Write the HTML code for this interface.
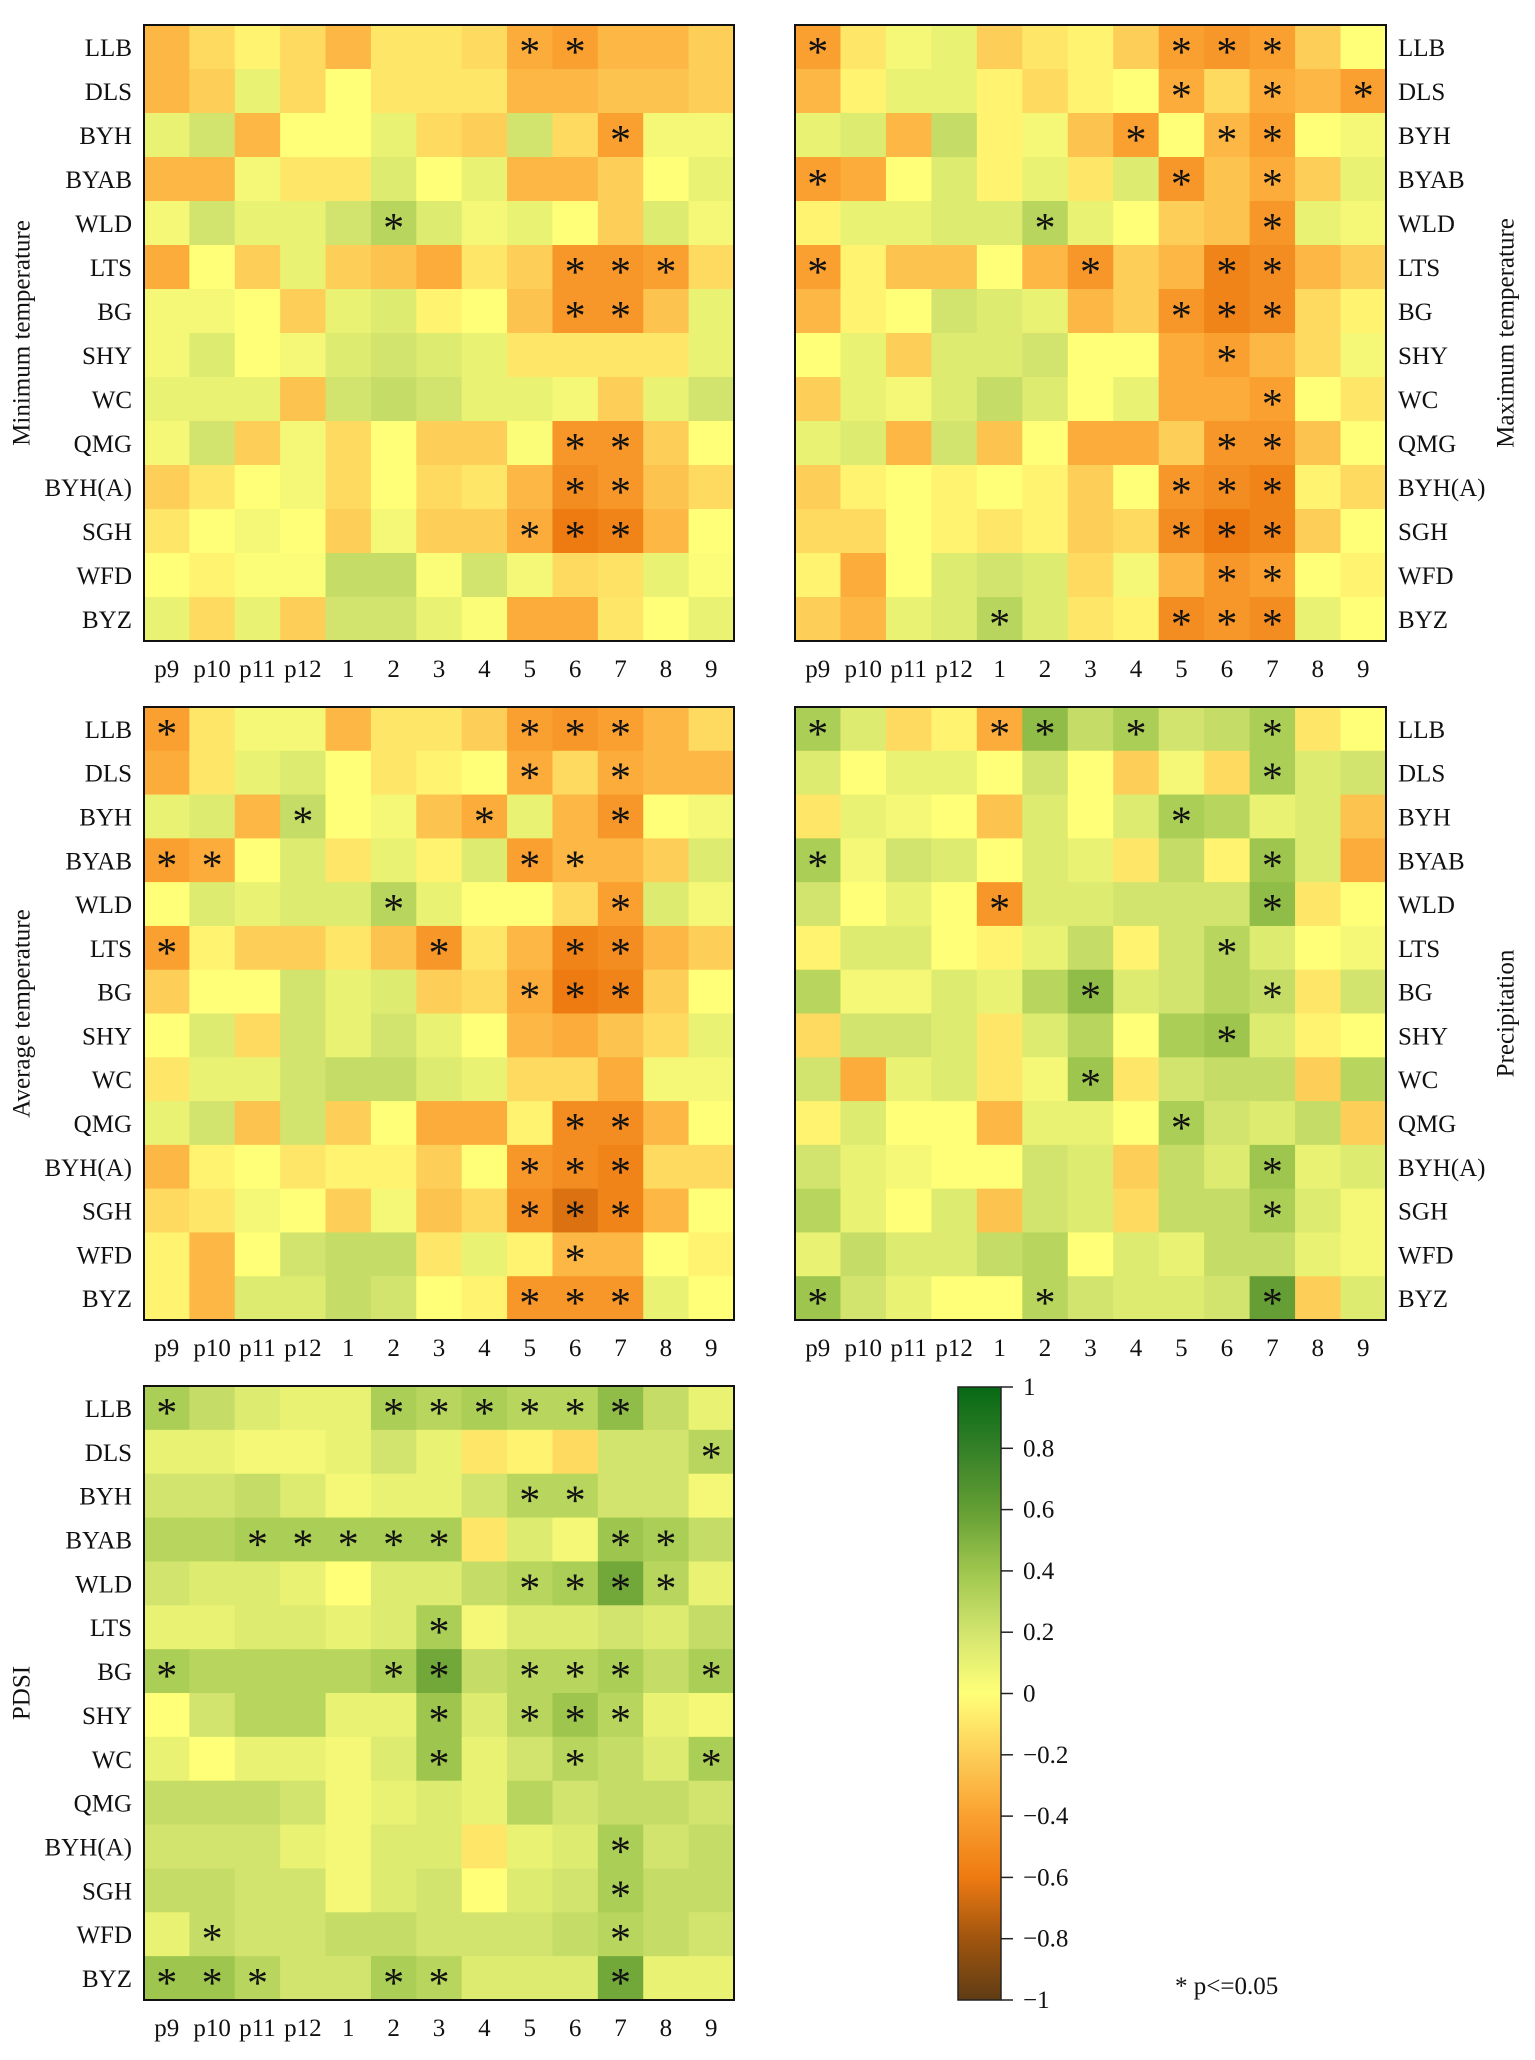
<!DOCTYPE html>
<html><head><meta charset="utf-8"><style>
html,body{margin:0;padding:0;background:#fff;}
svg{display:block;font-family:"Liberation Serif",serif;}
</style></head><body>
<svg id="fig" width="1535" height="2060" viewBox="0 0 1535 2060" xmlns="http://www.w3.org/2000/svg"></svg>
<script>
const sites = ["LLB","DLS","BYH","BYAB","WLD","LTS","BG","SHY","WC","QMG","BYH(A)","SGH","WFD","BYZ"];
const months = ["p9","p10","p11","p12","1","2","3","4","5","6","7","8","9"];
const colorbarTicks = ["1","0.8","0.6","0.4","0.2","0","\u22120.2","\u22120.4","\u22120.6","\u22120.8","\u22121"];
const colorbarTickValues = [1,0.8,0.6,0.4,0.2,0,-0.2,-0.4,-0.6,-0.8,-1];

const minTemp = [
[-0.3,-0.15,-0.05,-0.15,-0.3,-0.1,-0.1,-0.15,-0.35,-0.4,-0.3,-0.3,-0.2],
[-0.3,-0.2,0.1,-0.15,0,-0.1,-0.1,-0.1,-0.3,-0.3,-0.25,-0.25,-0.2],
[0.1,0.2,-0.3,0,0,0.1,-0.15,-0.2,0.2,-0.15,-0.4,0.05,0.05],
[-0.3,-0.3,0.05,-0.1,-0.1,0.15,0,0.1,-0.3,-0.3,-0.2,0,0.1],
[0.05,0.2,0.1,0.1,0.2,0.3,0.15,0.05,0.1,0,-0.2,0.15,0.05],
[-0.35,0,-0.2,0.1,-0.2,-0.25,-0.35,-0.1,-0.2,-0.45,-0.45,-0.4,-0.15],
[0.05,0.05,0,-0.2,0.1,0.15,-0.05,0,-0.25,-0.45,-0.45,-0.25,0.1],
[0.05,0.15,0,0.05,0.15,0.2,0.15,0.1,-0.1,-0.1,-0.1,-0.1,0.1],
[0.1,0.1,0.1,-0.25,0.2,0.25,0.2,0.1,0.1,0.05,-0.2,0.1,0.2],
[0.05,0.2,-0.2,0.05,-0.15,0,-0.2,-0.2,0.02,-0.45,-0.45,-0.2,0],
[-0.2,-0.1,0,0.05,-0.15,0,-0.15,-0.1,-0.3,-0.5,-0.45,-0.25,-0.15],
[-0.1,0,0.05,0,-0.2,0.05,-0.2,-0.2,-0.35,-0.6,-0.55,-0.3,0],
[0,-0.05,0.02,0.02,0.25,0.25,0.02,0.2,0.05,-0.15,-0.12,0.1,0.02],
[0.1,-0.15,0.1,-0.2,0.2,0.2,0.1,0.02,-0.35,-0.35,-0.1,0,0.1]];
const minTempSig = [[8,9],[],[10],[],[5],[9,10,11],[9,10],[],[],[9,10],[9,10],[8,9,10],[],[]];

const maxTemp = [
[-0.4,-0.1,0.05,0.1,-0.2,-0.1,-0.05,-0.2,-0.4,-0.45,-0.4,-0.2,0],
[-0.3,-0.05,0.1,0.1,-0.05,-0.15,-0.05,0,-0.35,-0.15,-0.35,-0.3,-0.4],
[0.1,0.15,-0.3,0.25,-0.05,0.05,-0.25,-0.4,0,-0.3,-0.4,0,0.05],
[-0.4,-0.35,0,0.15,-0.05,0.1,-0.1,0.15,-0.45,-0.25,-0.35,-0.2,0.1],
[-0.05,0.1,0.1,0.15,0.15,0.3,0.1,0,-0.2,-0.25,-0.45,0.1,0.05],
[-0.4,-0.05,-0.25,-0.25,0,-0.3,-0.45,-0.2,-0.3,-0.55,-0.5,-0.3,-0.2],
[-0.3,-0.05,0,0.2,0.15,0.1,-0.3,-0.2,-0.45,-0.55,-0.5,-0.15,-0.05],
[0,0.1,-0.2,0.15,0.15,0.2,0,0,-0.35,-0.4,-0.3,-0.15,0.05],
[-0.2,0.1,0.05,0.15,0.25,0.15,0,0.1,-0.35,-0.35,-0.4,0,-0.1],
[0.1,0.15,-0.3,0.2,-0.25,0,-0.35,-0.35,-0.2,-0.45,-0.45,-0.25,0],
[-0.2,-0.05,0,-0.05,0,-0.05,-0.2,0,-0.45,-0.5,-0.55,-0.05,-0.15],
[-0.15,-0.15,0,-0.05,-0.1,-0.05,-0.2,-0.15,-0.5,-0.6,-0.55,-0.2,0],
[-0.05,-0.35,0,0.15,0.2,0.15,-0.15,0.05,-0.3,-0.45,-0.4,0,-0.05],
[-0.2,-0.3,0.1,0.15,0.3,0.15,-0.1,-0.05,-0.5,-0.45,-0.5,0.1,0]];
const maxTempSig = [[0,8,9,10],[8,10,12],[7,9,10],[0,8,10],[5,10],[0,6,9,10],[8,9,10],[9],[10],[9,10],[8,9,10],[8,9,10],[9,10],[4,8,9,10]];

const avgTemp = [
[-0.4,-0.1,0.05,0.05,-0.3,-0.1,-0.1,-0.2,-0.4,-0.45,-0.4,-0.3,-0.15],
[-0.35,-0.1,0.1,0.15,0,-0.1,-0.05,0,-0.35,-0.15,-0.35,-0.3,-0.3],
[0.1,0.15,-0.3,0.25,0,0.05,-0.25,-0.35,0.1,-0.3,-0.45,0,0.05],
[-0.4,-0.35,0,0.15,-0.1,0.1,-0.05,0.15,-0.4,-0.3,-0.3,-0.2,0.15],
[0,0.15,0.1,0.15,0.15,0.3,0.1,0,0,-0.15,-0.4,0.15,0.05],
[-0.4,-0.05,-0.2,-0.2,-0.1,-0.25,-0.45,-0.1,-0.3,-0.55,-0.5,-0.3,-0.2],
[-0.2,0,0,0.2,0.1,0.15,-0.2,-0.15,-0.35,-0.6,-0.55,-0.2,0],
[0,0.15,-0.15,0.2,0.1,0.2,0.1,0,-0.3,-0.35,-0.25,-0.15,0.1],
[-0.1,0.1,0.1,0.2,0.25,0.25,0.15,0.1,-0.15,-0.15,-0.35,0.05,0.05],
[0.1,0.2,-0.25,0.2,-0.2,0,-0.35,-0.35,-0.05,-0.5,-0.5,-0.3,0],
[-0.3,-0.05,0,-0.1,-0.05,-0.05,-0.2,0,-0.45,-0.5,-0.55,-0.15,-0.15],
[-0.15,-0.1,0.05,0,-0.2,0.05,-0.25,-0.15,-0.5,-0.65,-0.55,-0.3,0],
[-0.05,-0.3,0,0.2,0.25,0.25,-0.1,0.1,-0.05,-0.3,-0.3,0,-0.05],
[-0.05,-0.3,0.15,0.15,0.25,0.2,0,-0.05,-0.45,-0.45,-0.45,0.1,0]];
const avgTempSig = [[0,8,9,10],[8,10],[3,7,10],[0,1,8,9],[5,10],[0,6,9,10],[8,9,10],[],[],[9,10],[8,9,10],[8,9,10],[9],[8,9,10]];

const precip = [
[0.35,0.15,-0.15,-0.05,-0.35,0.45,0.25,0.35,0.2,0.25,0.35,-0.1,0],
[0.15,0,0.1,0.1,0,0.2,0,-0.2,0.05,-0.15,0.35,0.15,0.2],
[-0.1,0.1,0.05,0,-0.25,0.15,0,0.15,0.35,0.3,0.1,0.15,-0.25],
[0.35,0.05,0.2,0.15,0,0.15,0.1,-0.1,0.25,-0.05,0.4,0.15,-0.35],
[0.2,0,0.1,0,-0.45,0.15,0.15,0.2,0.2,0.2,0.45,-0.1,0],
[-0.05,0.15,0.15,0,-0.05,0.1,0.25,-0.05,0.2,0.3,0.15,0,0.05],
[0.3,0.05,0.05,0.15,0.1,0.3,0.45,0.15,0.2,0.3,0.25,-0.1,0.2],
[-0.15,0.2,0.2,0.15,-0.1,0.15,0.3,0,0.35,0.4,0.15,-0.05,0],
[0.2,-0.35,0.1,0.15,-0.1,0.05,0.4,-0.1,0.2,0.25,0.25,-0.2,0.3],
[-0.05,0.15,0,0,-0.3,0.1,0.1,0,0.35,0.2,0.15,0.25,-0.2],
[0.2,0.1,0.05,0,0,0.2,0.15,-0.2,0.25,0.15,0.4,0.1,0.15],
[0.3,0.1,0,0.15,-0.25,0.2,0.15,-0.15,0.25,0.25,0.35,0.15,0.05],
[0.1,0.25,0.15,0.15,0.25,0.3,0,0.15,0.1,0.25,0.25,0.1,0.05],
[0.4,0.2,0.1,0,0,0.3,0.2,0.15,0.15,0.2,0.6,-0.2,0.15]];
const precipSig = [[0,4,5,7,10],[10],[8],[0,10],[4,10],[9],[6,10],[9],[6],[8],[10],[10],[],[0,5,10]];

const pdsi = [
[0.35,0.25,0.15,0.1,0.1,0.35,0.3,0.35,0.3,0.3,0.45,0.25,0.1],
[0.1,0.1,0.05,0.05,0.1,0.2,0.1,-0.1,-0.05,-0.15,0.2,0.2,0.3],
[0.2,0.2,0.25,0.15,0.05,0.1,0.1,0.2,0.3,0.3,0.2,0.2,0.05],
[0.3,0.3,0.35,0.35,0.35,0.35,0.35,-0.1,0.15,0.05,0.4,0.35,0.25],
[0.2,0.15,0.15,0.1,0,0.15,0.15,0.25,0.3,0.35,0.55,0.3,0.1],
[0.1,0.1,0.15,0.15,0.1,0.15,0.35,0.05,0.15,0.15,0.2,0.15,0.25],
[0.35,0.3,0.3,0.3,0.3,0.35,0.55,0.25,0.3,0.3,0.35,0.25,0.35],
[0,0.2,0.3,0.3,0.1,0.1,0.4,0.15,0.3,0.4,0.3,0.1,0.05],
[0.1,0,0.1,0.1,0.05,0.15,0.4,0.1,0.2,0.3,0.25,0.15,0.35],
[0.25,0.25,0.25,0.2,0.05,0.1,0.15,0.1,0.3,0.2,0.25,0.25,0.2],
[0.2,0.2,0.2,0.1,0.05,0.15,0.15,-0.1,0.1,0.15,0.35,0.2,0.25],
[0.25,0.25,0.2,0.2,0.05,0.15,0.2,0,0.15,0.2,0.35,0.25,0.25],
[0.1,0.25,0.2,0.2,0.25,0.25,0.2,0.2,0.2,0.25,0.3,0.25,0.2],
[0.4,0.4,0.3,0.2,0.2,0.35,0.3,0.15,0.15,0.15,0.55,0.1,0.1]];
const pdsiSig = [[0,5,6,7,8,9,10],[12],[8,9],[2,3,4,5,6,10,11],[8,9,10,11],[6],[0,5,6,8,9,10,12],[6,8,9,10],[6,9,12],[],[10],[10],[1,10],[0,1,2,5,6,10]];

const NS = "http://www.w3.org/2000/svg";
const svg = document.getElementById("fig");
const stops = [[-1,[95,60,20]],[-0.8,[160,85,15]],[-0.6,[238,122,18]],[-0.4,[250,160,48]],[-0.2,[253,206,88]],[0,[255,255,120]],[0.2,[210,228,110]],[0.4,[158,198,78]],[0.6,[100,158,52]],[0.8,[52,128,40]],[1,[5,105,20]]];
function color(v){
  v=Math.max(-1,Math.min(1,v));
  for(let i=0;i<stops.length-1;i++){
    const a=stops[i],b=stops[i+1];
    if(v>=a[0]&&v<=b[0]){const t=(v-a[0])/(b[0]-a[0]);
      const c=a[1].map((x,k)=>Math.round(x+(b[1][k]-x)*t));return `rgb(${c[0]},${c[1]},${c[2]})`;}
  }
  return "#fff";
}
function el(tag,attrs,parent){const e=document.createElementNS(NS,tag);for(const k in attrs)e.setAttribute(k,attrs[k]);(parent||svg).appendChild(e);return e;}
function txt(s,attrs,parent){const t=el("text",attrs,parent);t.textContent=s;return t;}

function panel(key,vals,sig,x0,x1,y0,y1,labelSide,title){
  const g=el("g",{});
  
  
  const cw=(x1-x0)/months.length, ch=(y1-y0)/sites.length;
  const xs=j=>x0+j*cw, ys=i=>y0+i*ch;
  vals.forEach((row,i)=>row.forEach((v,j)=>{
    const r=el("rect",{x:xs(j),y:ys(i),width:cw+0.6,height:ch+0.6,fill:color(v)},g);
    
    
  }));
  sig.forEach((cols,i)=>cols.forEach(j=>{
    const s=txt("*",{x:xs(j)+cw/2,y:ys(i)+ch/2+19,"text-anchor":"middle","font-size":42,fill:"#111"},g);
    
    
  }));
  const f=el("rect",{x:x0,y:y0,width:x1-x0,height:y1-y0,fill:"none",stroke:"#111","stroke-width":2},g);
  
  
  sites.forEach((s,i)=>{
    const a = labelSide==="left" ? {x:x0-12,"text-anchor":"end"} : {x:x1+12,"text-anchor":"start"};
    a.y=ys(i)+ch/2+9; a["font-size"]=25; a.fill="#111";
    const t=txt(s,a,g);
    
    
  });
  months.forEach((m,j)=>{
    const t=txt(m,{x:xs(j)+cw/2,y:y1+36,"text-anchor":"middle","font-size":25,fill:"#111"},g);
    
    
  });
  const tx = labelSide==="left" ? 24 : 1508;
  const cy=(y0+y1)/2;
  const tt=txt(title,{x:tx,y:cy,"text-anchor":"middle","font-size":25,fill:"#111",transform:`rotate(-90 ${tx} ${cy})`,"dominant-baseline":"middle"},g);
  
  
}
panel("min-temp",minTemp,minTempSig,144,734,25,641,"left","Minimum temperature");
panel("max-temp",maxTemp,maxTempSig,795,1386,25,641,"right","Maximum temperature");
panel("avg-temp",avgTemp,avgTempSig,144,734,707,1320,"left","Average temperature");
panel("precipitation",precip,precipSig,795,1386,707,1320,"right","Precipitation");
panel("pdsi",pdsi,pdsiSig,144,734,1386,2000,"left","PDSI");

// colorbar
const cb=el("g",{});


const defs=el("defs",{},svg);
const lg=el("linearGradient",{id:"cbg",x1:0,y1:1,x2:0,y2:0},defs);
for(let k=0;k<=40;k++){const v=-1+k/20;el("stop",{offset:(k/40),"stop-color":color(v)},lg);}
const cbx0=958,cbx1=1001,cby0=1387,cby1=2000;
const cy=v=>cby1-(v+1)/2*(cby1-cby0);
const cr=el("rect",{x:cbx0,y:cby0,width:cbx1-cbx0,height:cby1-cby0,fill:"url(#cbg)",stroke:"#222","stroke-width":1.5},cb);


colorbarTickValues.forEach((v,k)=>{
  const tk=el("line",{x1:cbx1,x2:cbx1+12,y1:cy(v),y2:cy(v),stroke:"#222","stroke-width":1.5},cb);
  
  
  const t=txt(colorbarTicks[k],{x:cbx1+22,y:cy(v)+8,"font-size":25,fill:"#111"},cb);
  
  
});
const note=txt("* p<=0.05",{x:1175,y:1994,"font-size":25,fill:"#111"});


</script>
</body></html>
